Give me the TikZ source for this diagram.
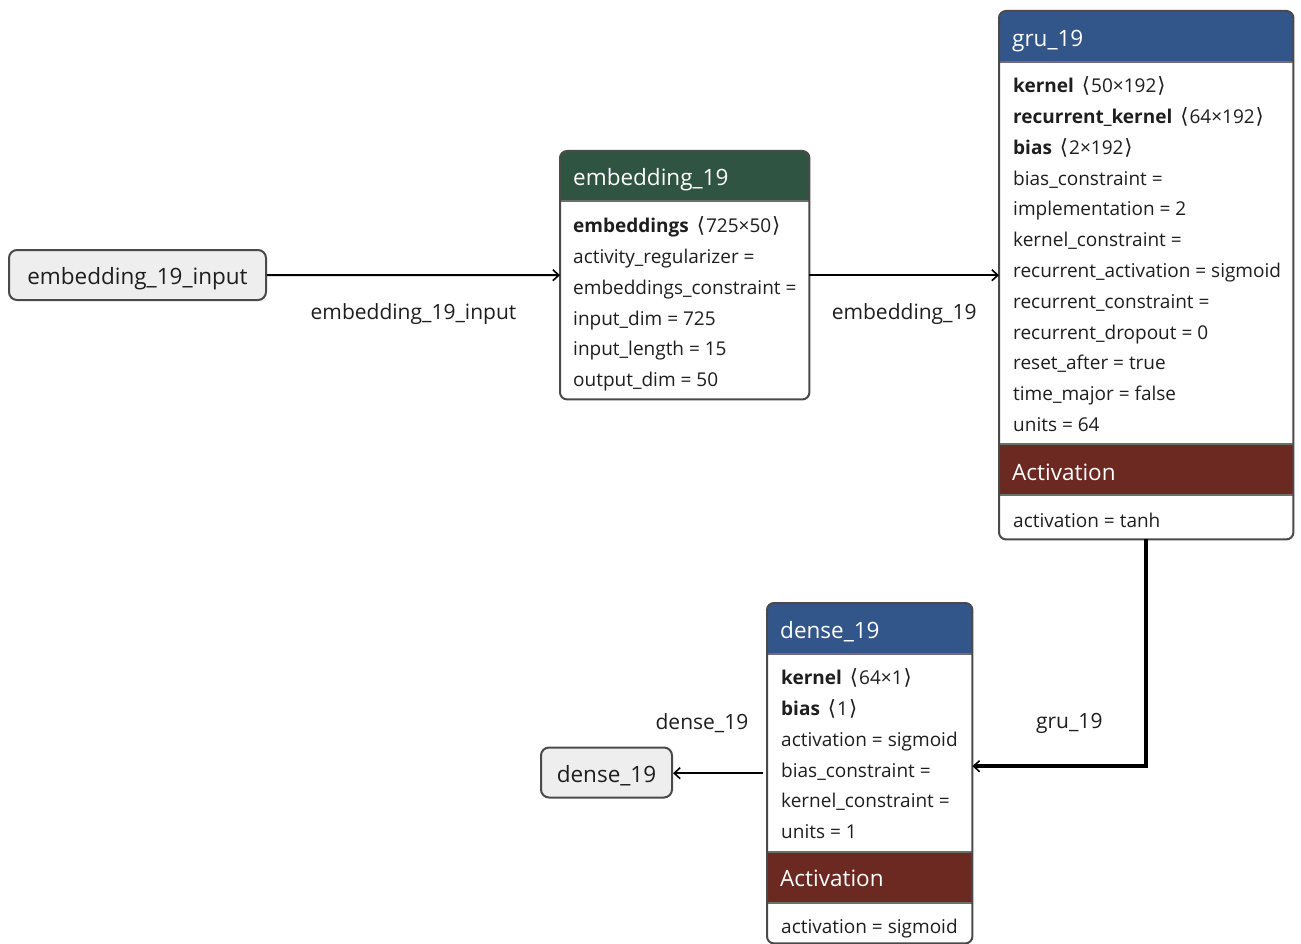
\documentclass[tikz,border=0pt]{standalone}
\usepackage{fontspec}
\setmainfont{Open Sans}
\newfontfamily\symfont{DejaVu Sans}
\usetikzlibrary{arrows.meta}

\definecolor{hdrgreen}{HTML}{2F5441}
\definecolor{hdrblue}{HTML}{33568A}
\definecolor{actred}{HTML}{6B2922}
\definecolor{boxline}{HTML}{4A4A4A}
\definecolor{sepline}{HTML}{6E6E6E}
\definecolor{iofill}{HTML}{EEEEEE}
\definecolor{txt}{HTML}{1E1E1E}

% tensor shape in angle brackets
\newcommand{\shp}[1]{\hspace{8pt}{\symfont\fontsize{21}{23}\selectfont ⟨}\hspace{1pt}#1\hspace{1pt}{\symfont\fontsize{21}{23}\selectfont ⟩}}

\tikzset{
  iobox/.style={draw=boxline, line width=2pt, fill=iofill, rounded corners=8pt,
    inner sep=0pt, text=txt, text height=24pt, text depth=4.5pt,
    font=\fontsize{22.5}{27}\selectfont},
  layerbox/.style={fill=white, draw=none, inner sep=0pt, anchor=north west},
  outline/.style={draw=boxline, line width=2pt, rounded corners=7pt},
  sep/.style={draw=sepline, line width=2pt},
  hdrtext/.style={anchor=west, inner sep=0pt, text=white, yshift=-3pt,
    font=\fontsize{22.5}{27}\selectfont\strut},
  prop/.style={anchor=west, inner sep=0pt, text=txt, yshift=-3pt,
    font=\fontsize{19}{23}\selectfont\strut},
  flow/.style={draw=black, line width=2pt,
    -{Straight Barb[length=6pt,width=11pt,line width=1.6pt]}},
  elabel/.style={text=txt, inner sep=0pt, font=\fontsize{21}{25}\selectfont},
}

\begin{document}
\begin{tikzpicture}[x=1pt, y=-1pt]
\useasboundingbox (0,0) rectangle (1301,944);

% ---------- input ----------
\node[iobox, minimum width=257pt, minimum height=50pt] (in) at (137.5,275)
  {embedding\_19\_input};

% ---------- embedding_19 ----------
\node[layerbox, minimum width=249pt, minimum height=248pt] (emb) at (560,151) {};
\begin{scope}
  \clip[rounded corners=7pt] (emb.north west) rectangle (emb.south east);
  \fill[hdrgreen] (560,151) rectangle (809,201);
  \draw[sep] (560,201) -- (809,201);
\end{scope}
\draw[outline] (emb.north west) rectangle (emb.south east);
\node[hdrtext] (emb-title) at (573,177) {embedding\_19};
\foreach [count=\i] \t in {
  {\textbf{embeddings}\shp{725×50}},
  {activity\_regularizer =},
  {embeddings\_constraint =},
  {input\_dim = 725},
  {input\_length = 15},
  {output\_dim = 50}}
  \node[prop] (emb-p\i) at (573,{225+30.8*(\i-1)}) {\t};

% ---------- gru_19 ----------
\node[layerbox, minimum width=294pt, minimum height=528pt] (gru) at (999,11) {};
\begin{scope}
  \clip[rounded corners=7pt] (gru.north west) rectangle (gru.south east);
  \fill[hdrblue] (999,11) rectangle (1293,62);
  \fill[actred] (999,444) rectangle (1293,495);
  \draw[sep] (999,62) -- (1293,62);
  \draw[sep] (999,444) -- (1293,444);
  \draw[sep] (999,495) -- (1293,495);
\end{scope}
\draw[outline] (gru.north west) rectangle (gru.south east);
\node[hdrtext] (gru-title) at (1012,38) {gru\_19};
\foreach [count=\i] \t in {
  {\textbf{kernel}\shp{50×192}},
  {\textbf{recurrent\_kernel}\shp{64×192}},
  {\textbf{bias}\shp{2×192}},
  {bias\_constraint =},
  {implementation = 2},
  {kernel\_constraint =},
  {recurrent\_activation = sigmoid},
  {recurrent\_constraint =},
  {recurrent\_dropout = 0},
  {reset\_after = true},
  {time\_major = false},
  {units = 64}}
  \node[prop] (gru-p\i) at (1013,{85+30.82*(\i-1)}) {\t};
\node[hdrtext] (gru-act) at (1012,472) {Activation};
\node[prop] (gru-a1) at (1013,520) {activation = tanh};

% ---------- dense_19 ----------
\node[layerbox, minimum width=205pt, minimum height=340pt] (dense) at (767,603) {};
\begin{scope}
  \clip[rounded corners=7pt] (dense.north west) rectangle (dense.south east);
  \fill[hdrblue] (767,603) rectangle (972,654);
  \fill[actred] (767,852) rectangle (972,903);
  \draw[sep] (767,654) -- (972,654);
  \draw[sep] (767,852) -- (972,852);
  \draw[sep] (767,903) -- (972,903);
\end{scope}
\draw[outline] (dense.north west) rectangle (dense.south east);
\node[hdrtext] (dense-title) at (780,630) {dense\_19};
\foreach [count=\i] \t in {
  {\textbf{kernel}\shp{64×1}},
  {\textbf{bias}\shp{1}},
  {activation = sigmoid},
  {bias\_constraint =},
  {kernel\_constraint =},
  {units = 1}}
  \node[prop] (dense-p\i) at (781,{677+30.8*(\i-1)}) {\t};
\node[hdrtext] (dense-act) at (780,878) {Activation};
\node[prop] (dense-a1) at (781,926) {activation = sigmoid};

% ---------- output ----------
\node[iobox, minimum width=131pt, minimum height=50pt] (out) at (606.5,772.5)
  {dense\_19};

% ---------- connectors ----------
\draw[flow] (in.east) -- (emb.west)
  node[elabel, midway, yshift=-39pt] (l-in) {embedding\_19\_input};
\draw[flow] (emb.east) -- (gru.west)
  node[elabel, midway, yshift=-39pt] (l-emb) {embedding\_19};
\draw[flow, line width=3.5pt] (gru.south) |- ([yshift=7pt]dense.east)
  node[elabel, pos=0.75, yshift=43pt, xshift=10pt] (l-gru) {gru\_19};
\draw[flow] ([xshift=-4pt]dense.west) -- (dense.west -| out.east)
  node[elabel, midway, yshift=50pt, xshift=-16pt] (l-dense) {dense\_19};
\end{tikzpicture}
\end{document}
